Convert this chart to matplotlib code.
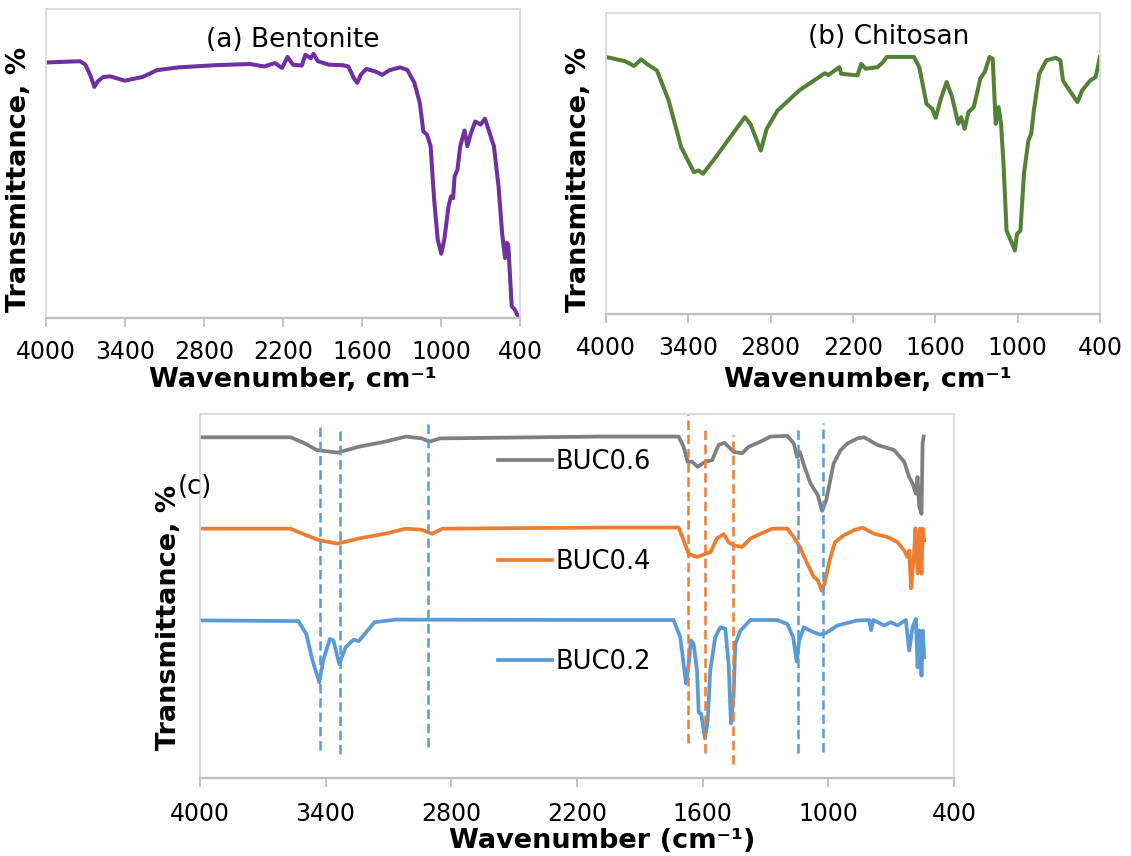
import matplotlib
matplotlib.use("Agg")
import matplotlib.pyplot as plt

plt.rcParams['font.family'] = ['DejaVu Sans']

# ---------------- data (wavenumber, relative transmittance) ----------------
bent_w = [4000, 3742, 3701, 3660, 3633, 3606, 3565, 3511, 3402, 3266, 3158, 2995, 2723, 2451,
          2343, 2261, 2207, 2166, 2125, 2057, 2030, 1989, 1968, 1935, 1854, 1745, 1704, 1663,
          1636, 1609, 1568, 1500, 1446, 1392, 1310, 1256, 1202, 1161, 1134, 1106, 1079, 1052,
          1025, 998, 975, 943, 924, 908, 897, 875, 854, 821, 800, 772, 740, 699, 666, 631, 598,
          563, 536, 514, 500, 489, 463, 440, 421, 400]
bent_t = [82.7, 83.1, 82.0, 78.2, 74.8, 76.6, 78.0, 78.2, 76.8, 78.0, 80.2, 81.1, 81.8, 82.2,
          81.4, 82.5, 80.9, 84.5, 82.0, 81.7, 85.2, 84.1, 85.5, 83.1, 82.0, 81.8, 81.4, 77.7,
          76.1, 78.7, 80.6, 79.8, 78.7, 80.2, 81.1, 80.3, 76.1, 69.6, 60.4, 59.3, 55.6, 38.3,
          25.4, 20.8, 25.4, 36.1, 39.4, 38.8, 45.8, 48.0, 55.6, 60.7, 55.6, 59.9, 63.6, 62.6,
          64.5, 59.9, 55.6, 42.6, 27.5, 19.4, 24.3, 23.7, 3.8, 2.7, 1.1, -0.8]

chit_w = [4000, 3862, 3796, 3743, 3703, 3629, 3544, 3452, 3359, 3325, 3293, 3200, 3094, 2988,
          2948, 2872, 2829, 2750, 2591, 2405, 2379, 2299, 2286, 2167, 2140, 2109, 2021, 1981,
          1955, 1756, 1717, 1664, 1624, 1597, 1563, 1518, 1478, 1433, 1412, 1386, 1359, 1320,
          1272, 1240, 1205, 1182, 1160, 1139, 1121, 1102, 1081, 1055, 1020, 1005, 980, 954,
          922, 901, 882, 843, 790, 723, 689, 670, 630, 564, 530, 471, 432, 400]
chit_t = [85.4, 84.0, 82.4, 84.6, 83.1, 80.9, 71.0, 55.4, 47.1, 47.7, 46.6, 52.1, 58.8, 65.4,
          63.2, 54.3, 61.5, 67.6, 74.3, 80.0, 79.4, 82.0, 79.8, 79.3, 83.1, 81.5, 82.0, 83.7,
          85.4, 85.4, 82.0, 69.8, 68.2, 65.2, 71.0, 77.1, 72.1, 63.2, 65.4, 61.5, 67.1, 68.7,
          78.2, 80.4, 85.4, 84.8, 63.2, 68.7, 63.2, 48.8, 27.7, 24.9, 21.1, 26.6, 27.7, 46.6,
          57.6, 59.9, 67.6, 79.8, 84.3, 85.1, 84.3, 77.6, 74.8, 70.4, 74.3, 77.6, 78.7, 85.4]

buc06_w = [4001, 3568, 3505, 3443, 3343, 3242, 3117, 3017, 2942, 2904, 2854, 2090, 1715, 1691,
           1672, 1651, 1624, 1587, 1555, 1524, 1496, 1476, 1452, 1412, 1380, 1324, 1276, 1196,
           1165, 1149, 1136, 1117, 1085, 1050, 1030, 1010, 975, 941, 909, 861, 829, 766, 686,
           638, 614, 598, 582, 574, 566, 555, 550, 545]
buc06_t = [93.6, 93.6, 92.1, 90.1, 89.4, 91.0, 92.4, 93.8, 93.3, 92.4, 93.3, 93.8, 93.8, 91.0,
           86.9, 86.9, 85.5, 86.9, 87.3, 91.5, 92.1, 91.0, 89.6, 89.2, 91.0, 92.4, 93.8, 94.0,
           91.9, 88.2, 89.6, 86.0, 80.9, 77.7, 73.4, 76.3, 86.4, 90.1, 91.9, 93.3, 93.6, 91.5,
           90.1, 86.9, 82.7, 80.9, 78.1, 82.7, 74.5, 72.6, 91.9, 93.8]

buc04_w = [4001, 3568, 3493, 3430, 3343, 3242, 3117, 3017, 2942, 2892, 2842, 2090, 1715, 1691,
           1667, 1627, 1563, 1532, 1500, 1476, 1452, 1412, 1372, 1324, 1268, 1196, 1165, 1136,
           1101, 1069, 1050, 1032, 1018, 994, 968, 925, 877, 837, 782, 718, 670, 638, 622, 614,
           605, 590, 584, 574, 563, 555, 549, 542]
buc04_t = [68.5, 68.5, 66.7, 65.3, 64.4, 65.8, 67.1, 68.5, 68.2, 67.1, 68.5, 68.8, 68.8, 65.3,
           61.6, 60.7, 62.1, 65.8, 67.0, 64.8, 63.9, 63.5, 65.8, 67.1, 68.5, 68.5, 66.2, 63.5,
           58.9, 55.2, 54.3, 51.5, 53.4, 59.8, 64.8, 66.7, 68.1, 68.8, 67.1, 66.2, 64.8, 62.5,
           60.7, 62.5, 52.1, 62.5, 68.6, 56.2, 68.5, 56.1, 68.5, 65.3]

buc02_w = [4001, 3530, 3493, 3463, 3430, 3412, 3380, 3363, 3335, 3305, 3267, 3242, 3167, 3067,
           2090, 1739, 1707, 1691, 1680, 1667, 1656, 1643, 1627, 1619, 1607, 1589, 1576, 1564,
           1540, 1516, 1492, 1476, 1465, 1452, 1444, 1420, 1372, 1244, 1196, 1168, 1151, 1139,
           1117, 1069, 1037, 1005, 957, 861, 805, 796, 785, 734, 702, 670, 630, 614, 598, 582,
           574, 566, 555, 549, 542]
buc02_t = [43.3, 43.1, 39.6, 32.3, 26.3, 32.3, 38.2, 37.8, 31.3, 35.9, 38.0, 37.6, 42.8, 43.5,
           43.4, 43.4, 38.7, 31.3, 26.0, 31.3, 37.8, 36.8, 29.5, 18.0, 17.6, 10.9, 15.7, 29.5,
           38.7, 41.4, 41.0, 31.3, 15.0, 23.1, 36.8, 40.5, 43.4, 43.4, 42.3, 38.7, 32.0, 37.8,
           41.4, 40.0, 39.4, 40.0, 41.9, 43.3, 43.4, 40.6, 43.4, 41.9, 42.8, 41.9, 43.4, 35.0,
           41.4, 43.7, 30.4, 40.5, 28.1, 40.5, 33.2]

series_labels = ["BUC0.6", "BUC0.4", "BUC0.2"]

# dashed marker lines: wavenumber, lower end, upper end
blue_marks = [3427, 3332, 2913, 1143, 1024]
blue_lo = [7.7, 6.6, 8.6, 6.8, 7.2]
blue_hi = [97.6, 96.5, 98.6, 96.7, 97.4]
orange_marks = [1669, 1587, 1454]
orange_lo = [9.5, 6.9, 3.8]
orange_hi = [100.0, 97.0, 94.2]

xticks = [4000, 3400, 2800, 2200, 1600, 1000, 400]

# ---------------- styling ----------------
PURPLE = "#7030A0"
GREEN = "#538135"
GRAY = "#808080"
ORANGE = "#ED7D31"
BLUE = "#5B9BD5"
FRAME = "#D9D9D9"
AXIS = "#BFBFBF"

TICK_FS = 17
LABEL_FS = 19.5
TITLE_FS = 19

W, H = 1131, 856
fig = plt.figure(figsize=(W / 100, H / 100), dpi=100)


def box(l, t, r, b):
    return [l / W, 1 - b / H, (r - l) / W, (b - t) / H]


def style(ax, pad):
    ax.set_xlim(4000, 400)
    ax.set_ylim(0, 100)
    ax.set_xticks(xticks)
    ax.set_xticklabels([str(t) for t in xticks])
    ax.set_yticks([])
    for s in ["top", "right", "left"]:
        ax.spines[s].set_color(FRAME)
        ax.spines[s].set_linewidth(1.3)
    ax.spines["bottom"].set_color(AXIS)
    ax.spines["bottom"].set_linewidth(1.6)
    ax.tick_params(axis="x", direction="out", length=6.5, width=1.3, color=AXIS,
                   labelsize=TICK_FS, pad=pad)


def labels(ax, xlab, xpos, ypos_lab):
    ax.set_xlabel(xlab, fontsize=LABEL_FS, fontweight="bold")
    ax.xaxis.label.set_va("center")
    ax.xaxis.set_label_coords(*xpos)
    ax.set_ylabel("Transmittance, %", fontsize=LABEL_FS, fontweight="bold")
    ax.yaxis.set_label_coords(*ypos_lab)


# ---- (a) Bentonite
axa = fig.add_axes(box(46, 9, 520, 318))
axa.plot(bent_w, bent_t, color=PURPLE, lw=2.9, solid_joinstyle="round")
style(axa, 9)
axa.text(0.520, 0.900, "(a) Bentonite", transform=axa.transAxes, ha="center", va="center",
         fontsize=TITLE_FS)
labels(axa, "Wavenumber, cm\u207b\u00b9", (0.521, -0.20), (-0.0295, 0.447))

# ---- (b) Chitosan
axb = fig.add_axes(box(606, 13, 1100, 314))
axb.plot(chit_w, chit_t, color=GREEN, lw=2.9, solid_joinstyle="round")
style(axb, 9)
axb.text(0.573, 0.920, "(b) Chitosan", transform=axb.transAxes, ha="center", va="center",
         fontsize=TITLE_FS)
labels(axb, "Wavenumber, cm\u207b\u00b9", (0.530, -0.219), (-0.028, 0.448))

# ---- (c) composites
axc = fig.add_axes(box(200, 414, 954, 778))
h6, = axc.plot(buc06_w, buc06_t, color=GRAY, lw=2.7, solid_joinstyle="round")
h4, = axc.plot(buc04_w, buc04_t, color=ORANGE, lw=2.7, solid_joinstyle="round")
h2, = axc.plot(buc02_w, buc02_t, color=BLUE, lw=2.7, solid_joinstyle="round")
for w, lo, hi in zip(blue_marks, blue_lo, blue_hi):
    axc.plot([w, w], [lo, hi], color=BLUE, lw=1.8, dashes=(3.8, 1.9))
for w, lo, hi in zip(orange_marks, orange_lo, orange_hi):
    axc.plot([w, w], [lo, hi], color=ORANGE, lw=1.8, dashes=(3.8, 1.9))
style(axc, 11)
labels(axc, "Wavenumber (cm\u207b\u00b9)", (0.534, -0.174), (-0.024, 0.442))
fig.text(195 / W, 1 - 487 / H, "(c)", ha="center", va="center", fontsize=18.5)

leg = axc.legend([h6, h4, h2], series_labels, loc="upper left",
                 bbox_to_anchor=((498 - 200) / 754, (778 - 449) / 364),
                 frameon=False, fontsize=18.5, handlelength=2.1, handletextpad=0.15,
                 labelspacing=2.88, borderaxespad=0, borderpad=0)

fig.savefig("out.png", dpi=100)
